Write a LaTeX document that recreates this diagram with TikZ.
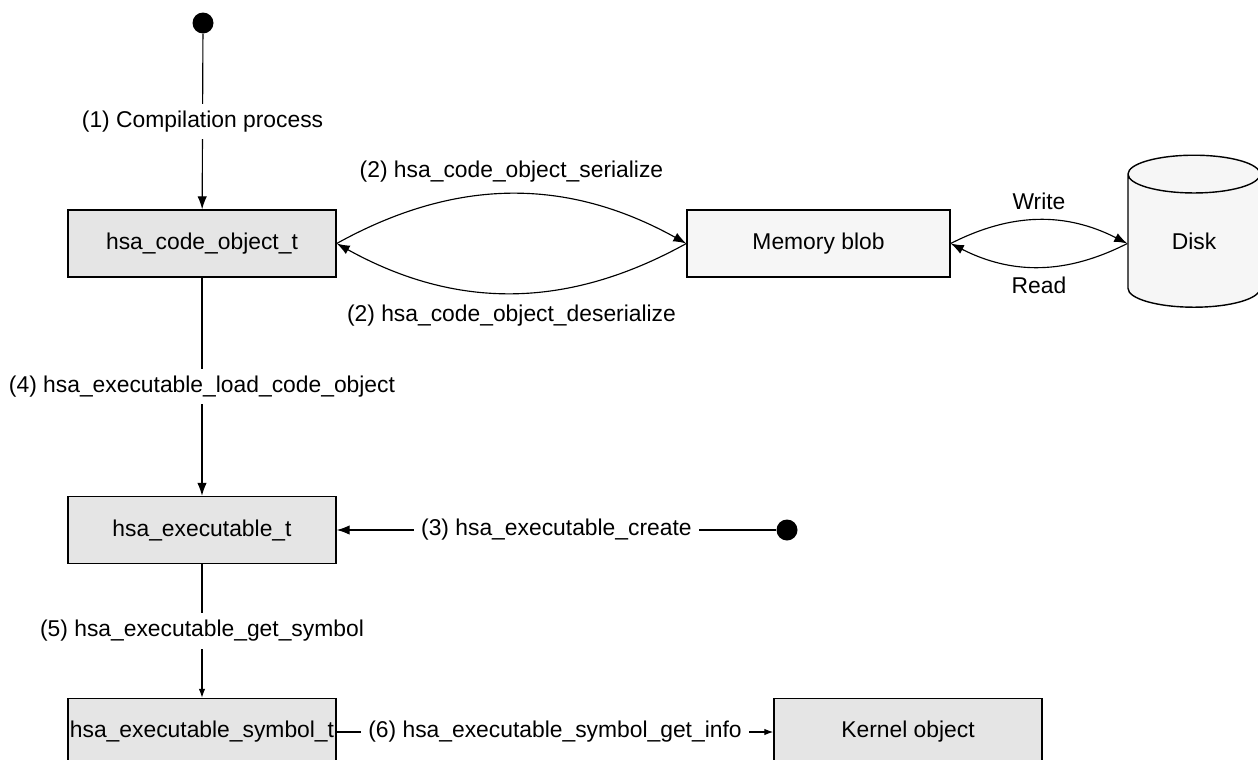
\documentclass[tikz,border=0pt]{standalone}
\usepackage{fontspec}
\setmainfont{Liberation Sans}
\usetikzlibrary{arrows.meta,shapes.geometric}

\tikzset{
  objbox/.style={draw, line width=0.8pt, fill=gray!20, minimum width=5.36cm, minimum height=1.34cm, inner sep=1pt},
  blobbox/.style={objbox, fill=gray!7, minimum width=5.26cm},
  lbl/.style={fill=white, inner sep=4pt},
  enddot/.style={circle, fill=black, inner sep=0pt, minimum size=0.42cm},
  flow/.style={-{Latex[length=2.6mm,width=1.9mm]}, line width=0.65pt},
  flowsmall/.style={-{Latex[length=1.8mm,width=1.3mm]}, line width=0.65pt},
}

\begin{document}
\begin{tikzpicture}[x=0.2mm, y=0.2mm, font=\fontsize{13}{15}\selectfont]
	\useasboundingbox (0,0) rectangle (1258,-760);
	\node[enddot] (start) at (203,-23) {};
	\node[objbox] (code) at (202,-243.5) {hsa\_code\_object\_t};
	\node[blobbox] (blob) at (818.5,-243.5) {Memory blob};
	\node[cylinder, shape border rotate=90, draw, line width=0.8pt, fill=gray!7, aspect=0.85,
		minimum width=2.64cm, minimum height=3.04cm, inner sep=0pt] (disk) at (1194,-241) {Disk};
	\node[objbox] (exe) at (202,-530) {hsa\_executable\_t};
	\node[enddot] (create) at (787,-530) {};
	\node[objbox] (sym) at (202,-732) {hsa\_executable\_symbol\_t};
	\node[objbox] (kernel) at (908,-732) {Kernel object};

	\draw[flow] (start) -- node[lbl] {(1) Compilation process} (code);
	\draw[flow] (code.east) to[bend left=29] node[above=3pt] {(2) hsa\_code\_object\_serialize} (blob.west);
	\draw[flow] (blob.west) to[bend left=29] node[below=3pt] {(2) hsa\_code\_object\_deserialize} (code.east);
	\draw[flow] (blob.east) to[bend left=27] node[above=2pt] {Write} (disk.west |- blob.east);
	\draw[flow] (disk.west |- blob.east) to[bend left=27] node[below=2pt] {Read} (blob.east);
	\draw[flow] (code) -- node[lbl] {(4) hsa\_executable\_load\_code\_object} (exe);
	\draw[flow] (create) -- node[lbl] {(3) hsa\_executable\_create} (exe);
	\draw[flowsmall] (exe) -- node[lbl] {(5) hsa\_executable\_get\_symbol} (sym);
	\draw[flowsmall] (sym) -- node[lbl] {(6) hsa\_executable\_symbol\_get\_info} (kernel);
\end{tikzpicture}
\end{document}
